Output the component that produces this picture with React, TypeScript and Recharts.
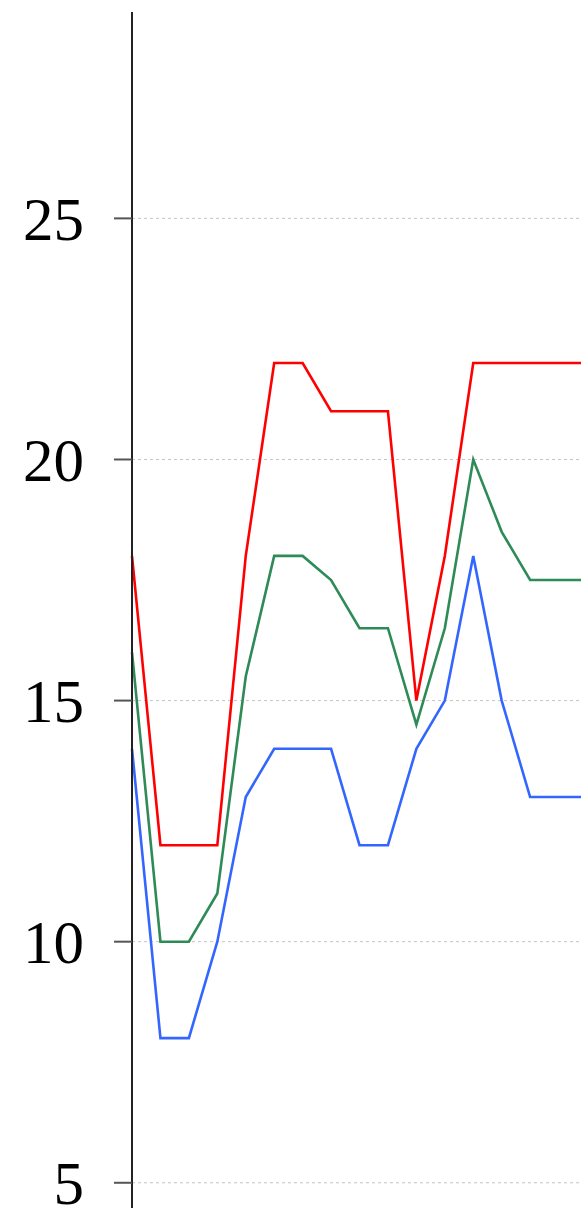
import React from "react";
import { LineChart, Line, XAxis, YAxis, CartesianGrid } from "recharts";

const categories = ["1", "2", "3", "4", "5", "6", "7", "8", "9", "10", "11", "12", "13", "14", "15", "16", "17"];
const redValues = [18, 12, 12, 12, 18, 22, 22, 21, 21, 21, 15, 18, 22, 22, 22, 22, 22];
const greenValues = [16, 10, 10, 11, 15.5, 18, 18, 17.5, 16.5, 16.5, 14.5, 16.5, 20, 18.5, 17.5, 17.5, 17.5];
const blueValues = [14, 8, 8, 10, 13, 14, 14, 14, 12, 12, 14, 15, 18, 15, 13, 13, 13];
const yTicks = [5, 10, 15, 20, 25];
const yDomain: [number, number] = [4, 29.28];

const data = categories.map((c, i) => ({
  name: c,
  red: redValues[i],
  green: greenValues[i],
  blue: blueValues[i],
}));

export default function App() {
  return (
    <div
      style={{
        position: "fixed",
        left: 0,
        top: 0,
        width: 581,
        height: 1208,
        overflow: "hidden",
        background: "#fff",
      }}
    >
      <LineChart
        width={587}
        height={1231}
        data={data}
        margin={{ top: 12, right: 0, bottom: 0, left: 0 }}
      >
        <CartesianGrid
          vertical={false}
          horizontalValues={yTicks}
          stroke="#c4c4c4"
          strokeDasharray="3 3"
        />
        <XAxis dataKey="name" hide />
        <YAxis
          width={132}
          domain={yDomain}
          ticks={yTicks}
          allowDataOverflow
          tickSize={18}
          tickMargin={30}
          axisLine={{ stroke: "#222222", strokeWidth: 2 }}
          tickLine={{ stroke: "#555555", strokeWidth: 2 }}
          tick={{ fontSize: 61, fontFamily: "Liberation Serif", fill: "#000000" }}
        />
        <Line
          type="linear"
          dataKey="red"
          stroke="#ff0000"
          strokeWidth={2.6}
          dot={false}
          isAnimationActive={false}
        />
        <Line
          type="linear"
          dataKey="green"
          stroke="#2e8b57"
          strokeWidth={2.6}
          dot={false}
          isAnimationActive={false}
        />
        <Line
          type="linear"
          dataKey="blue"
          stroke="#3366ff"
          strokeWidth={2.6}
          dot={false}
          isAnimationActive={false}
        />
      </LineChart>
    </div>
  );
}
